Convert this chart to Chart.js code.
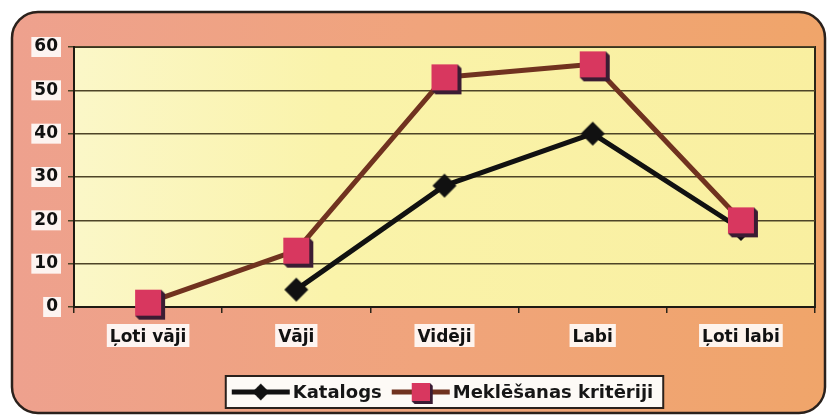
<!DOCTYPE html>
<html>
<head>
<meta charset="utf-8">
<script src="https://cdn.jsdelivr.net/npm/chart.js@4/dist/chart.umd.min.js"></script>
<style>
  html, body { margin: 0; padding: 0; background: #ffffff; }
  #wrap { width: 833px; height: 417px; }
</style>
</head>
<body>
<div id="wrap"><canvas id="c" width="833" height="417"></canvas></div>
<script>
// Ratings and the two series of answers
const categories = ['Ļoti vāji', 'Vāji', 'Vidēji', 'Labi', 'Ļoti labi'];
const katalogs = [null, 4, 28, 40, 18];
const meklesanasKriteriji = [1, 13, 53, 56, 20];
const seriesNames = ['Katalogs', 'Meklēšanas kritēriji'];
const yTicks = [0, 10, 20, 30, 40, 50, 60];

const FONT = 'DejaVu Sans';
const TICK_LEN = 6;
const Y_PAD = 10;
const X_PAD = 14;

// Marker images: a pink square with a dark extruded edge, and a black diamond
function squareMarker() {
  const c = document.createElement('canvas');
  c.width = 36; c.height = 36;
  const g = c.getContext('2d');
  const s = 26, o = (36 - s) / 2, d = 4;
  g.fillStyle = '#3b1c33';
  g.beginPath();
  g.moveTo(o + s, o); g.lineTo(o + s + d, o + d); g.lineTo(o + s + d, o + s + d);
  g.lineTo(o + d, o + s + d); g.lineTo(o, o + s); g.lineTo(o + s, o + s);
  g.closePath(); g.fill();
  g.fillStyle = '#d8375f';
  g.fillRect(o, o, s, s);
  return c;
}
function diamondMarker() {
  const c = document.createElement('canvas');
  c.width = 30; c.height = 30;
  const g = c.getContext('2d');
  const r = 12, cx = 15, cy = 15;
  g.fillStyle = '#111111';
  g.beginPath();
  g.moveTo(cx, cy - r); g.lineTo(cx + r, cy); g.lineTo(cx, cy + r); g.lineTo(cx - r, cy);
  g.closePath(); g.fill();
  return c;
}
const markers = [diamondMarker(), squareMarker()];

function roundRect(ctx, x, y, w, h, r) {
  ctx.beginPath();
  ctx.moveTo(x + r, y);
  ctx.lineTo(x + w - r, y);
  ctx.arcTo(x + w, y, x + w, y + r, r);
  ctx.lineTo(x + w, y + h - r);
  ctx.arcTo(x + w, y + h, x + w - r, y + h, r);
  ctx.lineTo(x + r, y + h);
  ctx.arcTo(x, y + h, x, y + h - r, r);
  ctx.lineTo(x, y + r);
  ctx.arcTo(x, y, x + r, y, r);
  ctx.closePath();
}

// Frame, plot background and the white boxes behind tick labels
const backdropPlugin = {
  id: 'backdrop',
  beforeDraw(chart) {
    const ctx = chart.ctx;
    const W = chart.width, H = chart.height;
    const a = chart.chartArea;
    ctx.save();
    ctx.fillStyle = '#ffffff';
    ctx.fillRect(0, 0, W, H);

    const fg = ctx.createLinearGradient(12, 0, W - 8, 0);
    fg.addColorStop(0, '#eea18e');
    fg.addColorStop(0.5, '#f0a47c');
    fg.addColorStop(1, '#f0a56a');
    roundRect(ctx, 12, 12, W - 20, H - 16, 26);
    ctx.fillStyle = fg;
    ctx.fill();
    ctx.lineWidth = 2.5;
    ctx.strokeStyle = '#2a211c';
    ctx.stroke();

    const pg = ctx.createLinearGradient(a.left, 0, a.right, 0);
    pg.addColorStop(0, '#fbf7c8');
    pg.addColorStop(0.35, '#faf3aa');
    pg.addColorStop(1, '#f9efa0');
    ctx.fillStyle = pg;
    ctx.fillRect(a.left, a.top, a.right - a.left, a.bottom - a.top);
    ctx.lineWidth = 2;
    ctx.strokeStyle = '#2a2418';
    ctx.strokeRect(a.left, a.top, a.right - a.left, a.bottom - a.top);

    ctx.fillStyle = 'rgba(255,255,255,0.88)';
    const ys = chart.scales.y, xs = chart.scales.x;
    ctx.font = 'bold 17px "' + FONT + '"';
    ys.ticks.forEach((t, i) => {
      const y = ys.getPixelForTick(i);
      const w = ctx.measureText(String(t.label)).width;
      const xr = ys.right - TICK_LEN - Y_PAD;
      ctx.fillRect(xr - w - 3, y - 10, w + 6, 20);
    });
    xs.ticks.forEach((t, i) => {
      const x = xs.getPixelForTick(i);
      const w = ctx.measureText(String(t.label)).width;
      const yt = xs.top + TICK_LEN + X_PAD;
      ctx.fillRect(x - w / 2 - 3, yt - 3, w + 6, 23);
    });
    ctx.restore();
  }
};

// Boxed legend below the axis, showing each series' line and marker
const legendBoxPlugin = {
  id: 'legendBox',
  afterDraw(chart) {
    const ctx = chart.ctx;
    const a = chart.chartArea;
    ctx.save();
    ctx.font = 'bold 18px "' + FONT + '"';
    const sample = 58, gapText = 3, gapItem = 10, padL = 6, padR = 10;
    const items = chart.data.datasets.map((ds, i) => ({
      ds, marker: markers[i], w: ctx.measureText(ds.label).width
    }));
    let total = padL + padR;
    items.forEach((it, i) => { total += sample + gapText + it.w + (i ? gapItem : 0); });
    const boxX = (a.left + a.right) / 2 - total / 2;
    const boxY = 376, boxH = 32;
    ctx.fillStyle = '#fdfaf6';
    ctx.fillRect(boxX, boxY, total, boxH);
    ctx.lineWidth = 2;
    ctx.strokeStyle = '#2a211c';
    ctx.strokeRect(boxX, boxY, total, boxH);
    const cy = boxY + boxH / 2;
    let x = boxX + padL;
    items.forEach((it, i) => {
      if (i) x += gapItem;
      ctx.strokeStyle = it.ds.borderColor;
      ctx.lineWidth = 5;
      ctx.beginPath();
      ctx.moveTo(x, cy); ctx.lineTo(x + sample, cy);
      ctx.stroke();
      const m = it.marker;
      const scale = 0.7;
      ctx.drawImage(m, x + sample / 2 - m.width * scale / 2, cy - m.height * scale / 2, m.width * scale, m.height * scale);
      x += sample + gapText;
      ctx.fillStyle = '#161616';
      ctx.textBaseline = 'middle';
      ctx.textAlign = 'left';
      ctx.fillText(it.ds.label, x, cy + 1);
      x += it.w;
    });
    ctx.restore();
  }
};

new Chart(document.getElementById('c'), {
  type: 'line',
  data: {
    labels: categories,
    datasets: [
      {
        label: seriesNames[0],
        data: katalogs,
        borderColor: '#111111',
        borderWidth: 5,
        pointStyle: markers[0],
        pointRadius: 12,
        tension: 0,
        clip: false,
        order: 2
      },
      {
        label: seriesNames[1],
        data: meklesanasKriteriji,
        borderColor: '#70321f',
        borderWidth: 5,
        pointStyle: markers[1],
        pointRadius: 13,
        tension: 0,
        clip: false,
        order: 1
      }
    ]
  },
  options: {
    responsive: false,
    animation: false,
    layout: { padding: { left: 0, right: 13, top: 47, bottom: 0 } },
    plugins: { legend: { display: false }, tooltip: { enabled: false } },
    elements: { line: { borderJoinStyle: 'round', borderCapStyle: 'round' } },
    scales: {
      x: {
        offset: true,
        afterFit(s) { s.height = 110; },
        grid: { display: true, offset: true, drawOnChartArea: false, drawTicks: true, tickLength: TICK_LEN, color: '#2a2418', lineWidth: 1.5 },
        border: { display: true, color: '#1e1a12', width: 2 },
        ticks: { color: '#111111', padding: X_PAD, font: { family: FONT, weight: 'bold', size: 17 } }
      },
      y: {
        min: yTicks[0],
        max: yTicks[yTicks.length - 1],
        afterFit(s) { s.width = 74; },
        grid: { color: '#4d4427', lineWidth: 1.5, tickLength: TICK_LEN, drawTicks: true },
        border: { display: true, color: '#1e1a12', width: 2 },
        ticks: {
          stepSize: yTicks[1] - yTicks[0],
          color: '#111111',
          padding: Y_PAD,
          font: { family: FONT, weight: 'bold', size: 17 }
        }
      }
    }
  },
  plugins: [backdropPlugin, legendBoxPlugin]
});
</script>
</body>
</html>
